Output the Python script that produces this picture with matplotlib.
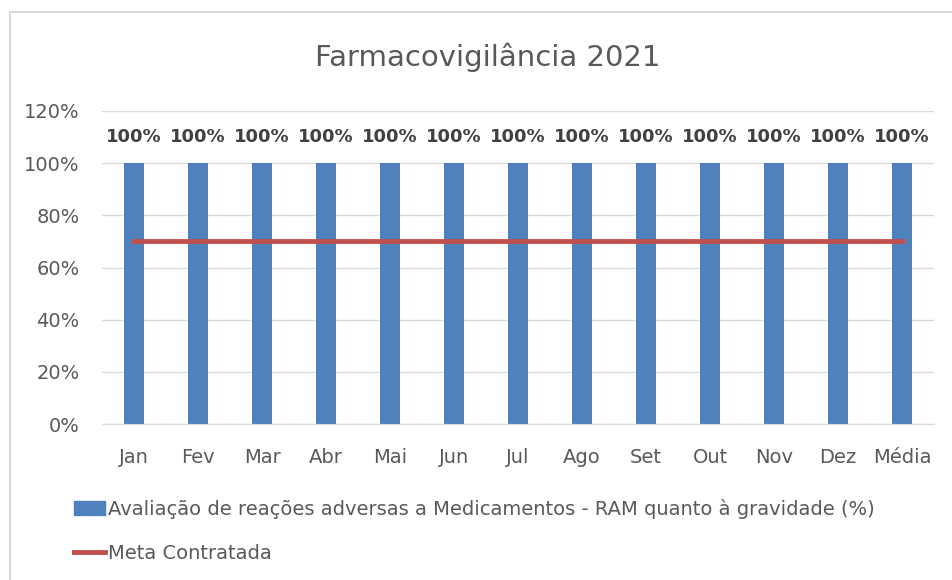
import matplotlib.pyplot as plt
from matplotlib.patches import Rectangle, Patch
from matplotlib.lines import Line2D

meses = ["Jan", "Fev", "Mar", "Abr", "Mai", "Jun", "Jul", "Ago", "Set", "Out", "Nov", "Dez", "Média"]
avaliacao = [100, 100, 100, 100, 100, 100, 100, 100, 100, 100, 100, 100, 100]
meta = [70, 70, 70, 70, 70, 70, 70, 70, 70, 70, 70, 70, 70]
y_ticks = [0, 20, 40, 60, 80, 100, 120]

azul = "#4F81BD"
vermelho = "#C0504D"
cinza = "#595959"

plt.rcParams['font.family'] = ['DejaVu Sans']

fig = plt.figure(figsize=(9.52, 5.8), dpi=100)
# moldura do gráfico
fig.patches.append(Rectangle((10 / 952, -0.05), 1.2, 1 - 12 / 580 + 0.05,
                             transform=fig.transFigure, fill=False,
                             edgecolor="#D9D9D9", linewidth=1.5))

ax = fig.add_axes([102 / 952, 1 - 424 / 580, 832 / 952, 313 / 580])
x = range(len(meses))
ax.bar(x, avaliacao, width=0.31, color=azul, zorder=2)
ax.plot(x, meta, color=vermelho, linewidth=3.5, zorder=3)

for i, v in enumerate(avaliacao):
    ax.text(i, v + 10, f"{v}%", ha="center", va="center", fontsize=13,
            fontweight="bold", color="#404040")

ax.set_xlim(-0.5, len(meses) - 0.5)
ax.set_ylim(0, 120)
ax.set_yticks(y_ticks)
ax.set_yticklabels([f"{t}%" for t in y_ticks])
ax.set_xticks(list(x))
ax.set_xticklabels(meses)
ax.tick_params(axis="both", length=0, labelsize=14, colors=cinza)
ax.tick_params(axis="x", pad=17)
ax.tick_params(axis="y", pad=16)
ax.grid(axis="y", color="#D9D9D9", linewidth=1, zorder=0)
for s in ax.spines.values():
    s.set_visible(False)
ax.spines["bottom"].set_visible(True)
ax.spines["bottom"].set_color("#D9D9D9")

fig.text(488 / 952, 1 - 57 / 580, "Farmacovigilância 2021", ha="center", va="center",
         fontsize=21, color=cinza)

handles = [Patch(facecolor=azul, edgecolor=azul),
           Line2D([0], [0], color=vermelho, linewidth=3.5)]
labels = ["Avaliação de reações adversas a Medicamentos - RAM quanto à gravidade (%)",
          "Meta Contratada"]
fig.legend(handles, labels, loc="upper left", bbox_to_anchor=(66 / 952, 1 - 491 / 580),
           frameon=False, fontsize=14, labelcolor=cinza, handlelength=1.6,
           handletextpad=0.15, labelspacing=1.3, borderaxespad=0)

fig.savefig("out.png", dpi=100)
